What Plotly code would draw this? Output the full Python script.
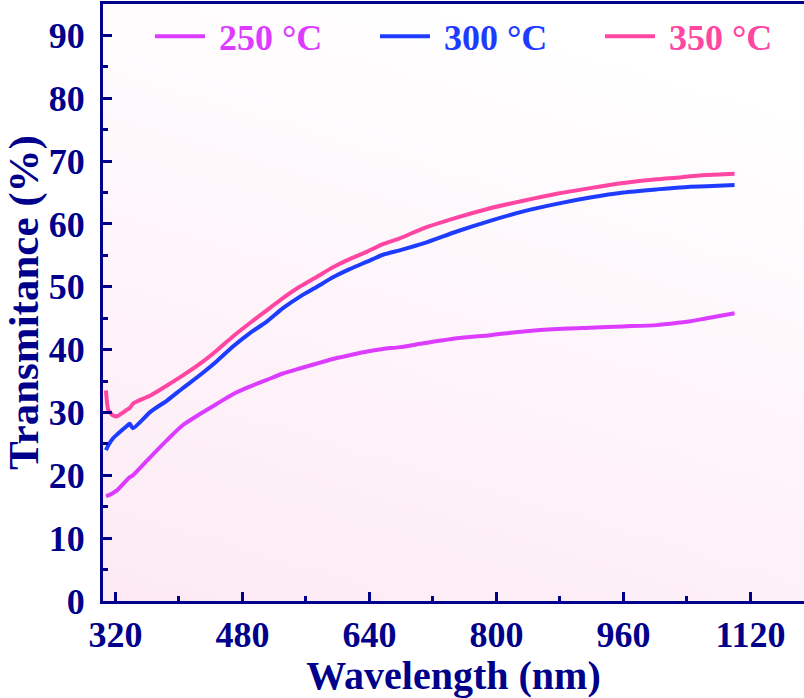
import base64, struct, zlib
import plotly.graph_objects as go

# ---------------- data ----------------
wavelength = [308, 311, 317, 322, 334, 338, 342, 364, 385, 405, 427, 448, 468, 489,
              511, 531, 552, 574, 594, 615, 637, 657, 678, 708, 750, 792, 834, 876,
              918, 960, 1002, 1031, 1044, 1065, 1100]
t250 = [16.7, 16.8, 17.2, 17.6, 19.2, 19.7, 20.0, 22.9, 25.6, 28.0, 29.8, 31.4, 32.9, 34.1,
        35.2, 36.2, 37.0, 37.8, 38.5, 39.1, 39.7, 40.1, 40.4, 41.0, 41.8, 42.3, 42.9, 43.3,
        43.5, 43.7, 43.9, 44.3, 44.5, 45.0, 45.8]
t300 = [24.0, 24.8, 25.9, 26.5, 27.8, 28.2, 27.5, 30.1, 31.9, 33.9, 36.0, 38.2, 40.5, 42.6,
        44.5, 46.6, 48.4, 50.0, 51.5, 52.8, 54.0, 55.1, 55.8, 56.9, 58.8, 60.5, 62.0, 63.2,
        64.2, 65.0, 65.5, 65.8, 65.9, 66.0, 66.2]
t350 = [33.5, 30.4, 29.5, 29.4, 30.4, 30.7, 31.4, 32.7, 34.3, 35.9, 37.8, 39.9, 42.1, 44.2,
        46.3, 48.2, 50.0, 51.6, 53.1, 54.4, 55.6, 56.8, 57.7, 59.3, 61.0, 62.5, 63.7, 64.8,
        65.7, 66.5, 67.1, 67.4, 67.6, 67.8, 68.0]
series_names = ["250 °C", "300 °C", "350 °C"]
series_colors = ["#DC3CFF", "#1E3CFF", "#FF46A2"]
x_tickvals = [320, 480, 640, 800, 960, 1120]
y_tickvals = [0, 10, 20, 30, 40, 50, 60, 70, 80, 90]

NAVY = "#00008B"
FONT = "Liberation Serif"


# ---------------- background gradient image ----------------
def gradient_png(w=96, h=96):
    rows = []
    pink = (253, 234, 244)
    for j in range(h):
        v = 1 - j / (h - 1)          # 1 at top, 0 at bottom
        row = bytearray([0])
        for i in range(w):
            u = i / (w - 1)
            k = max(0.0, min(1.0, 1 - (0.3 * u + 0.85 * v)))
            c = [int(round(255 - (255 - p) * k)) for p in pink]
            row += bytes(c)
        rows.append(bytes(row))
    raw = b"".join(rows)

    def chunk(tag, data):
        return (struct.pack(">I", len(data)) + tag + data +
                struct.pack(">I", zlib.crc32(tag + data) & 0xffffffff))
    png = b"\x89PNG\r\n\x1a\n"
    png += chunk(b"IHDR", struct.pack(">IIBBBBB", w, h, 8, 2, 0, 0, 0))
    png += chunk(b"IDAT", zlib.compress(raw, 9))
    png += chunk(b"IEND", b"")
    return "data:image/png;base64," + base64.b64encode(png).decode()


fig = go.Figure()
for name, ys, col in zip(series_names, [t250, t300, t350], series_colors):
    fig.add_trace(go.Scatter(
        x=wavelength, y=ys, mode="lines",
        name=f'<span style="color:{col}">\u00a0{name}</span>',
        line=dict(color=col, width=4, shape="spline", smoothing=0.6),
    ))

fig.update_layout(
    width=804, height=698,
    margin=dict(l=103, r=0, t=4, b=97, autoexpand=False),
    paper_bgcolor="white", plot_bgcolor="white",
    font=dict(family=FONT, color=NAVY, size=36, weight="bold"),
    showlegend=True,
    legend=dict(orientation="h", x=0.067, xanchor="left", y=0.946, yanchor="middle",
                bgcolor="rgba(0,0,0,0)", borderwidth=0,
                font=dict(family=FONT, size=36, weight="bold"),
                itemwidth=50, entrywidth=160, entrywidthmode="pixels"),
    images=[dict(source=gradient_png(), xref="paper", yref="paper", x=0, y=1,
                 sizex=1, sizey=1, xanchor="left", yanchor="top",
                 sizing="stretch", layer="below")],
)
fig.update_xaxes(
    range=[304.3, 1187.5], showgrid=False, zeroline=False, automargin=False,
    showline=True, linecolor=NAVY, linewidth=3, mirror=True,
    ticks="inside", ticklen=9, tickwidth=3, tickcolor=NAVY,
    tickvals=x_tickvals,
    tickfont=dict(family=FONT, size=36, color=NAVY, weight="bold"),
    minor=dict(dtick=80, tick0=320, ticks="inside", ticklen=5, tickwidth=3, tickcolor=NAVY),
    title=dict(text="Wavelength (nm)", standoff=0,
               font=dict(family=FONT, size=40, color=NAVY, weight="bold")),
)
fig.update_yaxes(
    range=[0, 95], showgrid=False, zeroline=False, automargin=False,
    showline=True, linecolor=NAVY, linewidth=3,
    ticks="inside", ticklen=9, tickwidth=3, tickcolor=NAVY,
    tickvals=y_tickvals, ticklabelstandoff=8,
    tickfont=dict(family=FONT, size=36, color=NAVY, weight="bold"),
    minor=dict(dtick=5, ticks="inside", ticklen=5, tickwidth=3, tickcolor=NAVY),
    title=dict(text="Transmitance (%)", standoff=2,
               font=dict(family=FONT, size=43, color=NAVY, weight="bold")),
)

fig.write_html("out.html", config={"displayModeBar": False},
               post_script="document.body.style.margin='0';document.body.style.padding='0';")
